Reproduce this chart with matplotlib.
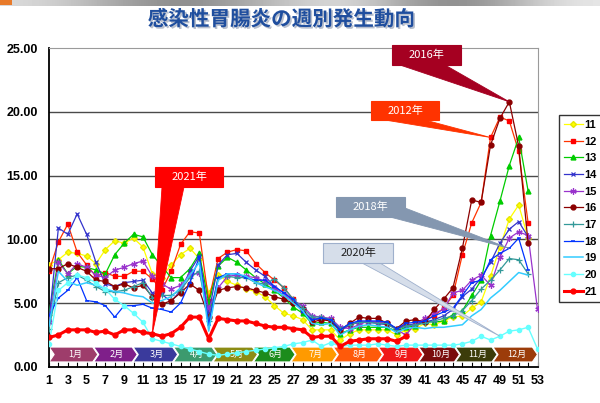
import numpy as np
import matplotlib
matplotlib.use("Agg")
import matplotlib.pyplot as plt
import matplotlib.patheffects as pe
from matplotlib.patches import Polygon, Rectangle
from matplotlib.ticker import FormatStrFormatter

plt.rcParams['font.family'] = ['Liberation Sans', 'Noto Sans CJK JP', 'DejaVu Sans']

nan = np.nan
weeks = np.arange(1, 54)

s11 = [8.0, 8.4, 9.0, 8.9, 8.7, 8.1, 9.2, 9.9, 9.7, 10.1, 9.4, 7.3, 7.0, 8.0, 8.8, 9.3, 8.5, 5.8, 7.2, 6.7,
       6.4, 6.1, 5.9, 5.5, 4.8, 4.2, 4.0, 3.7, 2.9, 2.9, 2.9, 2.1, 2.6, 2.9, 2.9, 2.9, 2.9, 2.5, 2.9, 3.0,
       3.4, 3.3, 3.6, 3.9, 4.0, 4.6, 5.1, 7.1, 9.4, 11.6, 12.7, 10.1, nan]
s12 = [7.5, 9.8, 11.2, 9.0, 8.0, 7.1, 7.4, 7.1, 7.1, 7.5, 7.5, 6.9, 6.0, 7.5, 9.6, 10.6, 10.5, 5.2, 8.5, 9.0,
       9.2, 9.1, 8.1, 7.4, 6.8, 6.2, 5.3, 4.3, 3.7, 3.8, 3.7, 2.8, 3.3, 3.5, 3.5, 3.5, 3.4, 3.0, 3.3, 3.3,
       3.7, 4.0, 4.6, 5.6, 8.8, 11.3, 12.9, 18.0, 19.6, 19.3, 16.9, 11.3, nan]
s13 = [4.2, 8.4, 7.3, 7.9, 7.8, 7.6, 7.3, 8.8, 9.7, 10.4, 10.2, 8.8, 7.9, 7.0, 7.0, 7.7, 8.9, 5.0, 7.9, 8.6,
       8.2, 7.6, 7.0, 6.5, 6.0, 5.4, 4.7, 4.2, 3.4, 3.5, 3.4, 2.6, 2.9, 3.1, 3.1, 3.1, 3.1, 2.8, 3.1, 3.2,
       3.6, 3.5, 3.6, 4.1, 4.4, 5.6, 6.8, 10.3, 13.0, 15.8, 18.0, 13.8, nan]
s14 = [3.6, 10.9, 10.4, 12.0, 10.4, 8.2, 6.5, 6.3, 6.6, 6.7, 6.8, 5.8, 5.7, 5.1, 6.0, 7.5, 8.7, 4.2, 8.0, 8.8,
       8.9, 8.2, 7.6, 7.1, 6.3, 5.8, 5.2, 4.4, 3.7, 3.8, 3.6, 2.8, 3.3, 3.5, 3.5, 3.4, 3.3, 3.0, 3.2, 3.4,
       3.5, 3.7, 4.0, 4.5, 5.5, 6.1, 7.0, 8.2, 9.7, 10.8, 11.4, 10.2, nan]
s15 = [3.5, 8.2, 7.3, 8.1, 7.8, 7.2, 7.0, 7.6, 7.8, 8.1, 8.3, 7.1, 6.5, 6.1, 6.4, 7.2, 7.4, 4.6, 6.2, 7.1,
       7.2, 7.1, 7.0, 6.7, 6.2, 5.6, 5.2, 4.8, 4.0, 3.9, 3.8, 3.1, 3.0, 3.3, 3.6, 3.5, 3.4, 2.9, 2.5, 3.4,
       3.8, 4.2, 4.5, 5.8, 6.0, 6.8, 7.2, 6.4, 8.6, 10.1, 10.6, 10.3, 4.5]
s16 = [7.7, 7.7, 8.1, 7.8, 7.5, 6.8, 6.7, 6.3, 6.5, 6.2, 6.4, 5.5, 4.9, 5.2, 5.8, 6.5, 6.0, 3.9, 6.0, 6.2,
       6.3, 6.2, 6.0, 5.8, 5.5, 5.3, 5.0, 4.5, 3.5, 3.7, 3.6, 2.9, 3.4, 3.9, 3.8, 3.8, 3.4, 3.0, 3.6, 3.7,
       3.5, 4.5, 5.3, 6.2, 9.3, 13.1, 12.9, 17.4, 19.5, 20.8, 17.3, 9.7, nan]
s17 = [3.0, 6.6, 7.0, 7.2, 6.8, 6.3, 5.9, 5.9, 6.0, 6.3, 6.6, 5.4, 5.6, 5.6, 6.0, 7.0, 7.5, 3.6, 7.0, 7.1,
       7.0, 7.0, 6.6, 6.5, 6.9, 6.2, 5.3, 4.6, 3.9, 3.9, 3.7, 3.0, 3.3, 3.5, 3.5, 3.4, 3.4, 2.9, 3.2, 3.3,
       3.4, 3.6, 3.8, 4.0, 4.4, 5.2, 6.1, 6.8, 7.6, 8.5, 8.4, 7.3, nan]
s18 = [4.0, 5.4, 6.0, 7.0, 5.2, 5.1, 4.8, 3.9, 4.8, 4.8, 4.9, 4.6, 4.5, 4.3, 5.0, 6.6, 8.6, 3.3, 7.0, 7.3,
       7.3, 7.0, 6.8, 6.8, 6.3, 5.8, 5.3, 4.3, 3.7, 3.8, 3.7, 2.9, 3.4, 3.6, 3.6, 3.6, 3.5, 3.0, 3.4, 3.5,
       3.6, 4.0, 4.3, 4.6, 5.6, 6.6, 6.8, 8.4, 8.9, 9.3, 10.1, 7.6, nan]
s19 = [3.2, 7.5, 6.7, 6.4, 6.6, 6.4, 6.1, 5.9, 5.8, 5.6, 5.5, 5.0, 5.2, 5.5, 6.2, 7.2, 8.2, 2.8, 6.8, 7.3,
       7.3, 7.1, 6.6, 6.3, 6.0, 5.6, 5.0, 4.4, 3.4, 3.3, 3.4, 2.5, 2.9, 3.2, 3.3, 3.2, 3.1, 2.7, 3.0, 3.1,
       3.0, 3.1, 3.1, 3.2, 3.3, 4.0, 4.5, 5.4, 6.0, 6.7, 7.4, 7.2, nan]
s20 = [1.8, 6.0, 6.6, 7.2, 7.0, 6.6, 6.1, 5.3, 4.8, 4.2, 3.5, 2.2, 2.0, 1.8, 1.6, 1.4, 1.2, 1.0, 0.9, 1.0,
       1.1, 1.2, 1.3, 1.4, 1.5, 1.6, 1.8, 1.9, 2.1, 1.6, 1.9, 1.6, 1.7, 1.7, 1.7, 1.8, 1.7, 1.6, 1.7, 1.7,
       1.7, 1.7, 1.7, 1.7, 1.8, 2.0, 2.4, 2.1, 2.4, 2.8, 2.9, 3.1, 1.4]
s21 = [2.3, 2.5, 2.9, 2.9, 2.9, 2.7, 2.8, 2.5, 2.9, 2.9, 2.7, 2.6, 2.4, 2.6, 3.1, 3.9, 3.9, 2.2, 3.8, 3.7,
       3.6, 3.6, 3.4, 3.2, 3.1, 3.1, 3.0, 2.9, 2.3, 2.4, 2.4, 1.6, 2.0, 2.1, 2.2, 2.2, 2.2, 2.0, 2.4, nan,
       nan, nan, nan, nan, nan, nan, nan, nan, nan, nan, nan, nan, nan]

labels = ['11', '12', '13', '14', '15', '16', '17', '18', '19', '20', '21']
series = [s11, s12, s13, s14, s15, s16, s17, s18, s19, s20, s21]
styles = [
    dict(color='#FFFF00', marker='D', ms=3, mfc='#FFFF00', mec='#E6E600', lw=0.9),
    dict(color='#FF3300', marker='s', ms=3.5, mfc='#FF0000', mec='#FF0000', lw=0.9),
    dict(color='#00CC00', marker='^', ms=3.5, mfc='#00CC00', mec='#00CC00', lw=0.9),
    dict(color='#3333CC', marker='x', ms=3.5, mfc='#3333CC', mec='#3333CC', lw=0.9, mew=0.9),
    dict(color='#9933CC', marker=(6, 2, 0), ms=4.5, mfc='#9933CC', mec='#9933CC', lw=0.9, mew=0.9),
    dict(color='#8B0000', marker='o', ms=3.5, mfc='#8B0000', mec='#8B0000', lw=0.9),
    dict(color='#339999', marker='+', ms=4.5, mfc='#339999', mec='#339999', lw=0.9, mew=0.9),
    dict(color='#0033FF', marker='_', ms=3.5, mfc='#0033FF', mec='#0033FF', lw=0.9, mew=1.1),
    dict(color='#33CCFF', marker=None, lw=1.1),
    dict(color='#66FFFF', marker='o', ms=3, mfc='#66FFFF', mec='#66FFFF', lw=1.0),
    dict(color='#FF0000', marker='o', ms=3.5, mfc='#FF0000', mec='#FF0000', lw=2.2),
]

months = ['1月', '2月', '3月', '4月', '5月', '6月', '7月', '8月', '9月', '10月', '11月', '12月']
month_ends = [6.2, 10.4, 14.7, 18.9, 23.2, 27.2, 31.7, 36.5, 40.8, 44.7, 48.7, 53.0]
month_colors = ['#9E3D6B', '#7F1F8A', '#3A3A9C', '#3C9A6E', '#8C8C14', '#1C8C1C',
                '#FF9A00', '#FF5A0A', '#F01818', '#7A0C0C', '#3C3C0A', '#9C3C0A']

W, H = 600, 403
fig = plt.figure(figsize=(W / 100, H / 100), dpi=100)
fig.patch.set_facecolor('white')

ax = fig.add_axes([49 / W, 1 - 366.8 / H, (537.5 - 49) / W, (366.8 - 48.3) / H])
ax.set_xlim(1, 53)
ax.set_ylim(0, 25)
ax.set_yticks([0, 5, 10, 15, 20, 25])
ax.yaxis.set_major_formatter(FormatStrFormatter('%.2f'))
ax.set_xticks(weeks)
ax.set_xticklabels([str(w) if w % 2 == 1 else '' for w in weeks])
for t in ax.get_xticklabels() + ax.get_yticklabels():
    t.set_fontweight('bold')
    t.set_fontsize(9)
ax.tick_params(axis='y', length=0, pad=8)
ax.tick_params(axis='x', direction='in', length=3.5, width=0.8, pad=6)
for y in [5, 10, 15, 20]:
    ax.axhline(y, color='#4A4A4A', lw=1.0, zorder=1)
ax.spines['left'].set_color('black')
ax.spines['left'].set_linewidth(1.3)
ax.spines['bottom'].set_color('black')
ax.spines['bottom'].set_linewidth(1.3)
ax.spines['top'].set_color('#9A9A9A')
ax.spines['right'].set_color('#9A9A9A')

# month chevrons
d = 0.55
top, bot = 1.55, 0.38
mid = (top + bot) / 2
left = 1.0
for m, r, c in zip(months, month_ends, month_colors):
    pts = [(left, top), (r - d, top), (r, mid), (r - d, bot), (left, bot), (left + d, mid)]
    ax.add_patch(Polygon(pts, closed=True, facecolor=c, edgecolor='white', lw=0.8, zorder=2))
    ax.text((left + r) / 2 + 0.15, mid, m, color='white', fontsize=6.5, ha='center', va='center',
            family=['Noto Sans CJK JP'], zorder=3)
    left = r - d + 0.1

lines = []
for i, (lab, s, st) in enumerate(zip(labels, series, styles)):
    ln, = ax.plot(weeks, s, label=lab, zorder=4 + i * 0.1, **st)
    lines.append(ln)

leg = ax.legend(handles=lines, loc='upper left', bbox_to_anchor=(559 / W, 1 - 115 / H),
                bbox_transform=fig.transFigure, prop={'weight': 'bold', 'size': 8},
                frameon=True, fancybox=False, edgecolor='black', borderpad=0.45,
                labelspacing=0.6, handlelength=1.7, handletextpad=0.15, borderaxespad=0)
leg.get_frame().set_linewidth(1.0)

# overlay in pixel coordinates for decorations
ov = fig.add_axes([0, 0, 1, 1], zorder=10)
ov.set_xlim(0, W)
ov.set_ylim(H, 0)
ov.axis('off')

grad = np.array([[0.85, 0.8, 0.7, 0.6, 0.55, 0.6, 0.7, 0.8, 0.85, 0.75, 0.6, 0.55, 0.65, 0.8, 0.9]])
ov.imshow(grad, cmap='gray', vmin=0, vmax=1, extent=(0, W, 6, 0), aspect='auto', interpolation='bicubic')
ov.add_patch(Rectangle((0, 0), 12, 5, facecolor='#E87A2A', edgecolor='none'))
ov.set_xlim(0, W)
ov.set_ylim(H, 0)

ov.text(281, 19, '感染性胃腸炎の週別発生動向', ha='center', va='center', fontsize=14.8,
        fontweight='bold', color='#1F4E9E', family=['Noto Sans CJK JP'],
        path_effects=[pe.withSimplePatchShadow(offset=(1.2, -1.2), shadow_rgbFace='#9AA4B8', alpha=0.7)])


def to_px(w, v):
    x, y = ax.transData.transform((w, v))
    return x, H - y


callouts = [
    ('2016年', (392, 45, 69, 20), '#A50021', '#A50021', 'white', [(400, 65), (445, 65)], (s16, 50)),
    ('2012年', (371, 101, 68, 19), '#FF3300', '#FF3300', 'white', [(385, 120), (425, 120)], (s12, 48)),
    ('2021年', (155, 167, 68, 20), '#FF0000', '#FF0000', 'white', [(162, 187), (184, 187)], (s21, 12)),
    ('2018年', (336, 197, 69, 20), '#8497B0', '#8497B0', 'white', [(390, 217), (405, 208)], (s18, 50)),
    ('2020年', (323, 243, 70, 20), '#D6DEEA', '#9FB0CC', '#202020', [(362, 263), (380, 263)], (s20, 49)),
]
for txt, (bx, by, bw, bh), fc, ec, tc, base, (ser, wk) in callouts:
    tx, ty = to_px(wk, ser[wk - 1])
    ov.add_patch(Polygon([base[0], base[1], (tx, ty)], closed=True, facecolor=fc, edgecolor=ec,
                         lw=0.6, zorder=2))
    ov.add_patch(Rectangle((bx, by), bw, bh, facecolor=fc, edgecolor=ec, lw=0.8, zorder=3))
    ov.text(bx + bw / 2, by + bh / 2, txt, ha='center', va='center', fontsize=8, color=tc,
            family=['Noto Sans CJK JP'], zorder=4)

fig.savefig('out.png', dpi=100)
